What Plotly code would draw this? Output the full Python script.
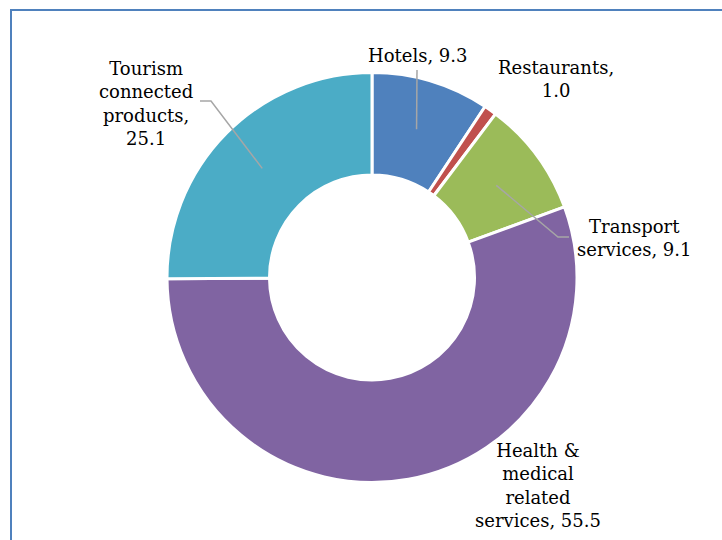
import math
import plotly.graph_objects as go

# Tourism-related spending shares (%)
categories = ["Hotels", "Restaurants", "Transport services",
              "Health & medical related services", "Tourism connected products"]
values = [9.3, 1.0, 9.1, 55.5, 25.1]
colors = ["#4F81BD", "#C0504D", "#9BBB59", "#8064A2", "#4BACC6"]
label_lines = [
    ["Hotels, 9.3"],
    ["Restaurants,", "1.0"],
    ["Transport", "services, 9.1"],
    ["Health &", "medical", "related", "services, 55.5"],
    ["Tourism", "connected", "products,", "25.1"],
]

W, H = 722, 540
CX, CY, R_OUT = 372, 277.5, 205
HOLE = 0.5
FONT = "DejaVu Serif, serif"


def px(x, y):
    """pixel -> paper coordinates"""
    return x / W, 1 - y / H


fig = go.Figure()
fig.add_trace(go.Pie(
    labels=categories,
    values=values,
    sort=False,
    direction="clockwise",
    rotation=0,
    hole=HOLE,
    marker=dict(colors=colors, line=dict(color="white", width=3)),
    textinfo="none",
    hoverinfo="label+value",
    domain=dict(x=[(CX - R_OUT) / W, (CX + R_OUT) / W],
                y=[(H - CY - R_OUT) / H, (H - CY + R_OUT) / H]),
    showlegend=False,
))

# label placement (pixel centre of each text block) and leader-line elbows
label_pos = [(417, 55), (556, 79), (634, 238), (538, 485), (146, 103)]
elbows = [[(417, 70)], None, [(558, 237), (569, 237)], None, [(211, 101), (200, 101)]]

total = sum(values)
cum = 0.0
shapes = []
annotations = []
r_anchor = (R_OUT + R_OUT * HOLE) / 2 + 1
for v, lines, pos, elbow in zip(values, label_lines, label_pos, elbows):
    mid = (cum + v / 2) / total * 2 * math.pi
    cum += v
    ax = CX + r_anchor * math.sin(mid)
    ay = CY - r_anchor * math.cos(mid)
    if elbow:
        pts = [(ax, ay)] + elbow
        path = "M " + " L ".join(
            f"{px(x, y)[0]:.5f},{px(x, y)[1]:.5f}" for x, y in pts)
        shapes.append(dict(type="path", xref="paper", yref="paper", path=path,
                           line=dict(color="#A6A6A6", width=1.5)))
    lx, ly = px(*pos)
    annotations.append(dict(
        x=lx, y=ly, xref="paper", yref="paper", xanchor="center", yanchor="middle",
        text="<br>".join(lines), showarrow=False, align="center",
        font=dict(family=FONT, size=18, color="#000000")))

# chart frame
x0, y0 = px(11, 10)
x1, y1 = px(W + 20, H + 20)
shapes.append(dict(type="rect", xref="paper", yref="paper",
                   x0=x0, y0=y1, x1=x1, y1=y0,
                   line=dict(color="#4F81BD", width=2)))

fig.update_layout(
    width=W, height=H,
    margin=dict(l=0, r=0, t=0, b=0),
    paper_bgcolor="white",
    plot_bgcolor="white",
    shapes=shapes,
    annotations=annotations,
)

fig.write_html("out.html")
